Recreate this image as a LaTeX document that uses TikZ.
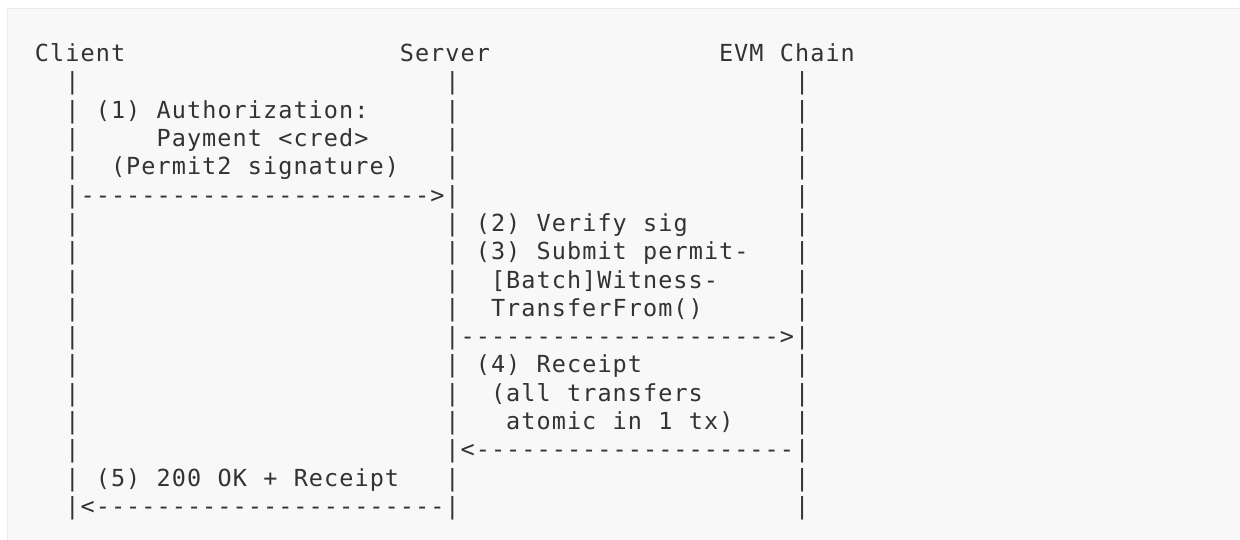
\documentclass[tikz,border=0pt]{standalone}
\usepackage{fontspec}
% monospaced face, widened slightly so one character cell is 15.2pt
\setmonofont[LetterSpace=4.5,WordSpace={1.0745,0,0}]{DejaVu Sans Mono}
\definecolor{ink}{HTML}{333333}
\definecolor{codebg}{HTML}{F8F8F8}
\definecolor{codeedge}{HTML}{EBEBEB}
\begin{document}
\begin{tikzpicture}[
  x=15.2pt, y=-28.3pt,
  txt/.style={anchor=base west, inner sep=0pt, outer sep=0pt, text=ink,
              font=\ttfamily\fontsize{23.5pt}{28.3pt}\selectfont},
  lifeline/.style={txt}
]
% page and code block background
\useasboundingbox (-19.8pt,61.7pt) rectangle (1220.2pt,-478.3pt);
\fill[white] (-19.8pt,61.7pt) rectangle (1220.2pt,-478.3pt);
\fill[codebg] (-11.8pt,52.7pt) rectangle (1220.2pt,-478.3pt);
\draw[codeedge, line width=1pt] (-11.8pt,-478.3pt) |- (1220.2pt,52.7pt);

% participants
\node[txt] (client) at (1,0) {Client};
\node[txt] (server) at (25,0) {Server};
\node[txt] (chain)  at (46,0) {EVM Chain};

% lifelines
\foreach \r in {1,...,16} {
  \node[lifeline] (cl\r) at (3,\r)  {|};
  \node[lifeline] (sv\r) at (28,\r) {|};
  \node[lifeline] (ev\r) at (51,\r) {|};
}

% (1) client -> server
\node[txt] (m1a) at (5,2) {(1) Authorization:};
\node[txt] (m1b) at (9,3) {Payment <cred>};
\node[txt] (m1c) at (6,4) {(Permit2 signature)};
\node[txt] (a1)  at (4,5) {----------------------->};

% (2)-(3) server -> chain
\node[txt] (m2)  at (30,6) {(2) Verify sig};
\node[txt] (m3a) at (30,7) {(3) Submit permit-};
\node[txt] (m3b) at (31,8) {[Batch]Witness-};
\node[txt] (m3c) at (31,9) {TransferFrom()};
\node[txt] (a3)  at (29,10) {--------------------->};

% (4) chain -> server
\node[txt] (m4a) at (30,11) {(4) Receipt};
\node[txt] (m4b) at (31,12) {(all transfers};
\node[txt] (m4c) at (32,13) {atomic in 1 tx)};
\node[txt] (a4)  at (29,14) {<---------------------};

% (5) server -> client
\node[txt] (m5)  at (5,15) {(5) 200 OK + Receipt};
\node[txt] (a5)  at (4,16) {<-----------------------};
\end{tikzpicture}
\end{document}
